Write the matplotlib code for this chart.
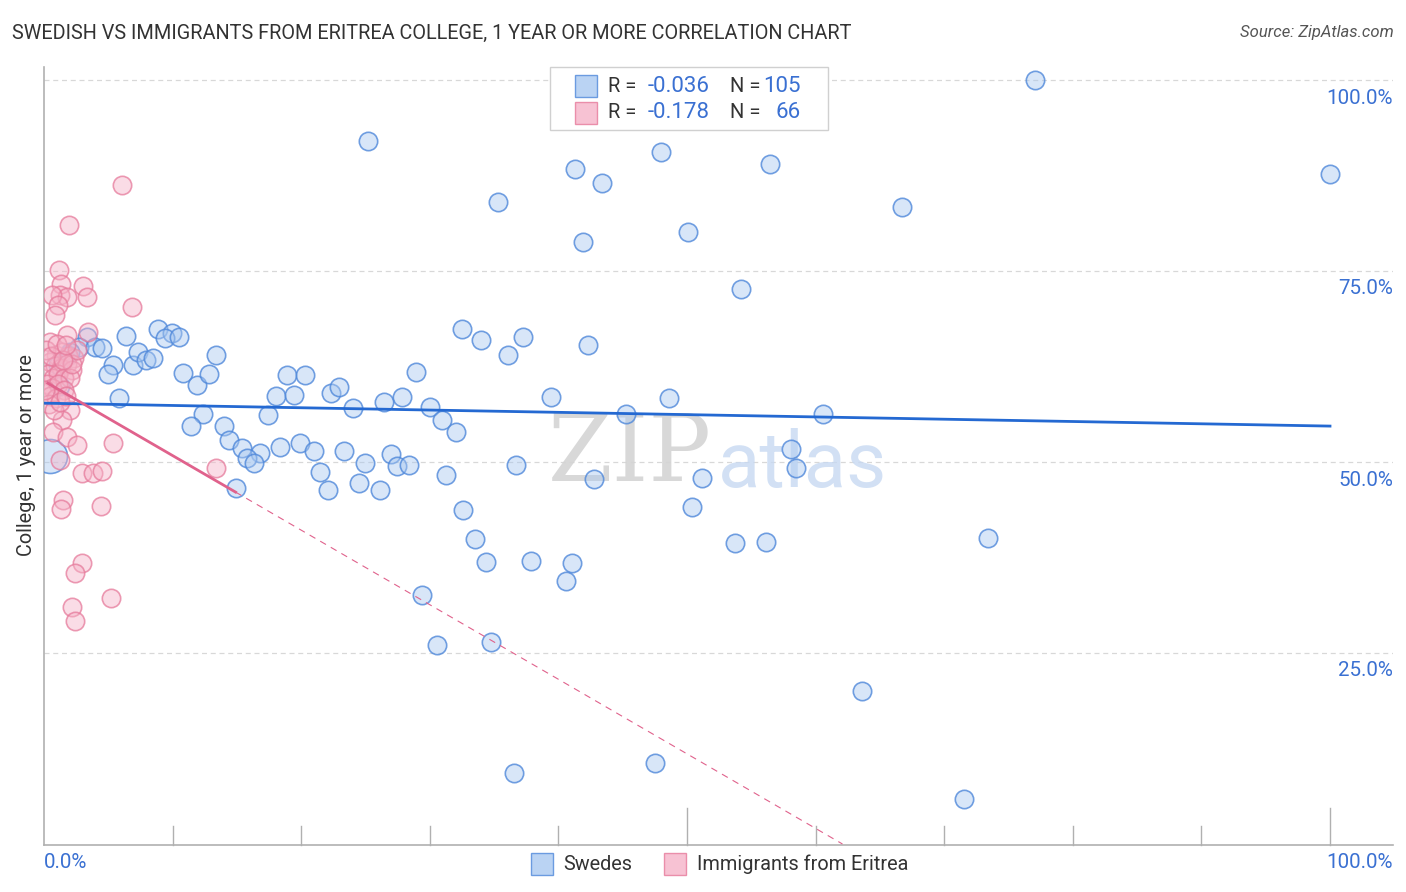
import matplotlib
matplotlib.use("Agg")
import matplotlib.pyplot as plt
from matplotlib.patches import Rectangle
from matplotlib.colors import to_rgba
import numpy as np

plt.rcParams['font.family'] = ['Roboto', 'DejaVu Sans']

# ---------------- data ----------------
swedes_x = [77.06, 46.89, 25.19, 47.98, 41.29, 56.45, 43.39, 100.0, 35.30, 66.72,
            50.08, 41.91, 54.20, 8.86, 6.38, 9.95, 9.41, 10.50, 32.50, 33.98,
            37.25, 42.30, 36.08, 3.34, 2.72, 3.97, 4.51, 1.87, 13.37, 5.37,
            4.98, 6.92, 7.31, 7.93, 8.48, 10.81, 11.90, 12.83, 1.24, 5.83,
            12.36, 11.43, 14.00, 14.39, 15.40, 16.80, 15.79, 16.33, 18.35, 18.90,
            20.30, 18.04, 19.44, 17.42, 14.93, 22.32, 22.94, 28.93, 24.03,
            26.44, 27.84, 30.02, 30.95, 32.04, 19.91, 21.00, 21.46, 22.08, 23.33,
            24.96, 24.49, 26.13, 26.98, 27.45, 28.38, 31.26, 32.58, 39.42, 48.60,
            45.26, 60.58, 36.70, 42.77, 33.51, 34.37, 37.87, 41.06, 40.59, 29.39,
            58.09, 58.48, 51.17, 50.39, 53.73, 56.14, 30.56, 34.76, 63.61, 36.55,
            47.51, 71.54, 73.41, 2.02, 1.09]
swedes_y = [100.0, 100.0, 92.0, 90.58, 88.35, 89.0, 86.52, 87.7, 84.03, 83.38,
            80.10, 78.80, 72.64, 67.41, 66.49, 66.88, 66.23, 66.36, 67.41, 65.97,
            66.36, 65.31, 64.01, 66.36, 65.05, 65.05, 64.92, 64.01, 64.01, 62.70,
            61.52, 62.70, 64.40, 63.35, 63.61, 61.65, 60.08, 61.52, 59.95, 58.38,
            56.28, 54.71, 54.71, 52.88, 51.83, 51.18, 50.52, 49.87, 51.96, 61.39,
            61.39, 58.64, 58.77, 56.15, 46.60, 59.03, 59.82, 61.78, 57.07,
            57.85, 58.51, 57.20, 55.50, 53.93, 52.49, 51.44, 48.69, 46.34, 51.44,
            49.87, 47.25, 46.34, 51.05, 49.48, 49.61, 48.30, 43.72, 58.51, 58.38,
            56.28, 56.28, 49.61, 47.77, 39.92, 36.91, 37.04, 36.78, 34.42, 32.59,
            51.70, 49.21, 47.91, 44.11, 39.40, 39.53, 26.05, 26.44, 20.03, 9.29,
            10.60, 5.89, 40.05, 64.40, 62.70]
# one heavier-weighted Swedes point drawn larger
swedes_big_x = [0.5]
swedes_big_y = [50.8]

eritrea_x = [6.07, 1.94, 1.17, 1.32, 3.03, 1.24, 1.79, 3.34, 0.62, 1.09,
             0.86, 6.84, 3.42, 1.79, 0.47, 2.02, 1.40, 0.70, 1.79, 2.57,
             5.37, 1.24, 2.95, 3.81, 4.51, 13.37, 1.48, 1.32, 4.43, 2.95,
             2.41, 5.21, 2.18, 2.41, 0.93, 1.40, 1.87, 2.33, 0.47, 0.86,
             1.32, 1.79, 2.18, 0.31, 0.70, 1.09, 1.56, 2.02, 0.23, 0.62,
             1.09, 1.56, 0.47, 0.93, 0.39, 0.78, 1.24, 1.71, 2.18, 2.57,
             0.16, 0.54, 1.01, 1.48, 1.71, 0.08]
eritrea_y = [86.26, 81.02, 75.13, 73.30, 73.04, 71.86, 71.60, 71.60, 71.86, 70.55,
             69.24, 70.29, 67.02, 66.62, 65.71, 56.81, 55.50, 53.93, 53.27, 52.23,
             52.49, 50.26, 48.56, 48.56, 48.82, 49.21, 45.03, 43.85, 44.24, 36.78,
             35.47, 32.20, 31.02, 29.19, 64.01, 64.40, 63.87, 63.61, 63.09, 62.57,
             62.30, 62.83, 62.04, 61.52, 61.00, 61.52, 61.00, 61.00, 60.21, 59.69,
             60.21, 59.42, 58.64, 58.38, 57.59, 56.81, 57.85, 58.64, 62.83, 64.66,
             64.66, 63.87, 65.45, 63.35, 65.31, 59.42]

# trend lines (intercept, slope) in % units
swedes_trend = (57.7, -0.030)
eritrea_trend = (60.6, -0.976)
eritrea_solid_end = 14.9

legend_rows = [("-0.036", "105"), ("-0.178", "66")]
series_names = ["Swedes", "Immigrants from Eritrea"]
y_ticks = [25, 50, 75, 100]
y_tick_labels = ["25.0%", "50.0%", "75.0%", "100.0%"]

# ---------------- style ----------------
BLUE_FACE = "#a9c8f0"
BLUE_EDGE = "#4f88da"
PINK_FACE = "#f6b3c8"
PINK_EDGE = "#e67a9b"
BLUE_LINE = "#2469d2"
PINK_LINE = "#e0628c"
LABEL_BLUE = "#3a70d2"
TEXT = "#333333"

W, H = 1406, 892
fig = plt.figure(figsize=(W / 100, H / 100), dpi=100)
L, R, B, T = 44, 1393, 845, 67
ax = fig.add_axes([L / W, 1 - B / H, (R - L) / W, (B - T) / H])

x_max = (R - L) / 12.86
y_min = (844 - B) / 7.64
y_max = (844 - T) / 7.64
ax.set_xlim(0, x_max)
ax.set_ylim(y_min, y_max)

for s in ["top", "right"]:
    ax.spines[s].set_visible(False)
for s in ["left", "bottom"]:
    ax.spines[s].set_color("#b0b0b0")
    ax.spines[s].set_linewidth(1.2)

# grid
for yv in y_ticks:
    ax.axhline(yv, color="#d8d8d8", lw=0.9, ls=(0, (4, 3)), zorder=0)

# x ticks inside
ax.set_xticks([])
ax.set_yticks([])
for xv in range(10, 101, 10):
    length = 37 if xv in (50, 100) else 19
    ax.plot([xv, xv], [y_min, y_min + length / 7.64],
            color="#b0b0b0", lw=1.0, clip_on=False, zorder=1)

# watermark
ax.text(0.495, 0.501, "ZIP", transform=ax.transAxes, fontsize=67, color="#d4d4d4",
        family="DejaVu Serif", ha="right", va="center", alpha=0.9, zorder=0.5)
ax.text(0.4996, 0.488, "atlas", transform=ax.transAxes, fontsize=56, color="#c7d9f2",
        ha="left", va="center", alpha=0.8, zorder=0.5)

S = 175
bf = to_rgba(BLUE_FACE, 0.45)
be = to_rgba(BLUE_EDGE, 0.8)
pf = to_rgba(PINK_FACE, 0.45)
pe = to_rgba(PINK_EDGE, 0.75)
ax.scatter(swedes_x, swedes_y, s=S, facecolor=bf, edgecolor=be, linewidth=1.2, zorder=3)
ax.scatter(swedes_big_x, swedes_big_y, s=600, facecolor=bf, edgecolor=be,
           linewidth=1.2, zorder=3)
ax.scatter(eritrea_x, eritrea_y, s=S, facecolor=pf, edgecolor=pe, linewidth=1.2, zorder=3)

# trend lines
xs = np.array([0, 100])
ax.plot(xs, swedes_trend[0] + swedes_trend[1] * xs, color=BLUE_LINE, lw=2, zorder=4)
x0 = 0.3
xs1 = np.array([x0, eritrea_solid_end])
ax.plot(xs1, eritrea_trend[0] + eritrea_trend[1] * xs1, color=PINK_LINE, lw=2, zorder=4)
x_end = eritrea_trend[0] / -eritrea_trend[1]
xs2 = np.array([eritrea_solid_end, x_end])
ax.plot(xs2, eritrea_trend[0] + eritrea_trend[1] * xs2, color=PINK_LINE, lw=0.8,
        ls=(0, (6, 5)), zorder=4)

# y tick labels (right side, below gridlines)
for yv, lab in zip(y_ticks, y_tick_labels):
    ypx = 844 - yv * 7.64 + 18
    fig.text(1393 / W, 1 - ypx / H, lab, ha="right", va="center", fontsize=14.8,
             color=LABEL_BLUE)

# x labels
fig.text(44 / W, 1 - 863 / H, "0.0%", ha="left", va="center", fontsize=14.8, color=LABEL_BLUE)
fig.text(1393 / W, 1 - 863 / H, "100.0%", ha="right", va="center", fontsize=14.8, color=LABEL_BLUE)

# title and source
fig.text(12 / W, 1 - 33 / H, "SWEDISH VS IMMIGRANTS FROM ERITREA COLLEGE, 1 YEAR OR MORE CORRELATION CHART",
         ha="left", va="center", fontsize=14.3, color=TEXT)
fig.text(1394 / W, 1 - 33 / H, "Source: ZipAtlas.com", ha="right", va="center",
         fontsize=12, color="#555555", style="italic")

# y axis label
fig.text(27 / W, 1 - 455 / H, "College, 1 year or more", rotation=90, ha="center",
         va="center", fontsize=14.3, color=TEXT)

# top legend box
def fx(px):
    return px / W

def fy(py):
    return 1 - py / H

fig.patches.append(Rectangle((fx(550), fy(130)), (828 - 550) / W, (130 - 67) / H,
                             transform=fig.transFigure, facecolor="white",
                             edgecolor="#d0d0d0", lw=1.0, zorder=5))
row_y = [86, 113]
faces = [BLUE_FACE, PINK_FACE]
edges = [BLUE_EDGE, PINK_EDGE]
for i, ((rv, nv), yy) in enumerate(zip(legend_rows, row_y)):
    fig.patches.append(Rectangle((fx(575), fy(yy + 11)), 22 / W, 22 / H,
                                 transform=fig.transFigure, facecolor=faces[i],
                                 edgecolor=edges[i], lw=1.0, alpha=0.8, zorder=6))
    fig.text(fx(608), fy(yy), "R =", ha="left", va="center", fontsize=14.5, color=TEXT, zorder=7)
    fig.text(fx(710), fy(yy), rv, ha="right", va="center", fontsize=16, color=LABEL_BLUE, zorder=7)
    fig.text(fx(730), fy(yy), "N =", ha="left", va="center", fontsize=14.5, color=TEXT, zorder=7)
    fig.text(fx(801), fy(yy), nv, ha="right", va="center", fontsize=16, color=LABEL_BLUE, zorder=7)

# bottom legend
bx = [531, 664]
tx = [563, 697]
for i in range(2):
    fig.patches.append(Rectangle((fx(bx[i]), fy(875)), 22 / W, 22 / H,
                                 transform=fig.transFigure, facecolor=faces[i],
                                 edgecolor=edges[i], lw=1.0, alpha=0.8))
    fig.text(fx(tx[i]), fy(864), series_names[i], ha="left", va="center",
             fontsize=14.3, color=TEXT)

fig.savefig("out.png", dpi=100)
